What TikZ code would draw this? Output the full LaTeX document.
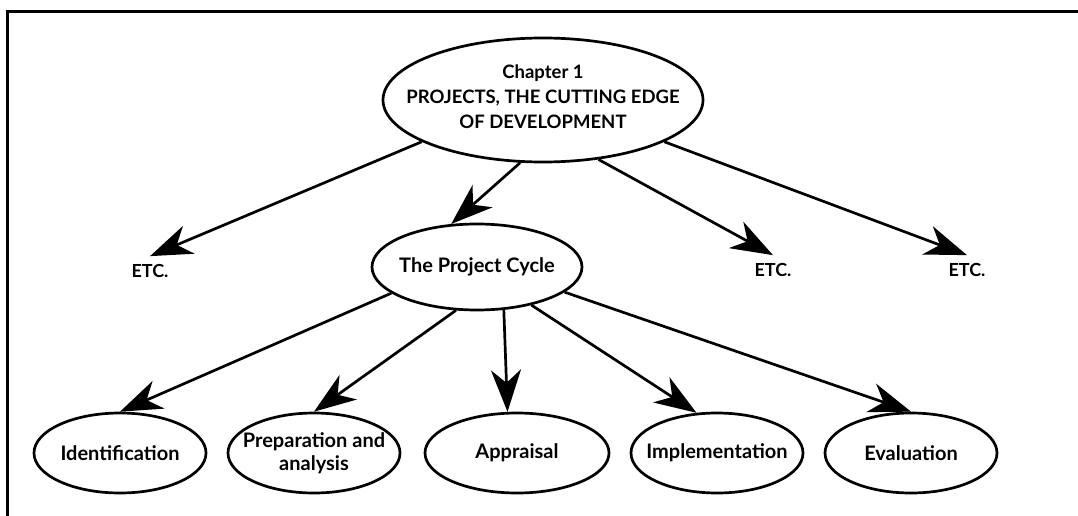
\documentclass[tikz,border=0pt]{standalone}
\usepackage{fontspec}
\setmainfont{Lato}
\usetikzlibrary{shapes.geometric,arrows.meta}

\tikzset{
  frame/.style={line width=3pt},
  bubble/.style={draw, ellipse, line width=2.7pt, inner sep=0pt, minimum height=80pt, minimum width=#1},
  bubble/.default=172pt,
  etc/.style={inner sep=8pt, font=\bfseries\fontsize{18}{22}\selectfont},
  link/.style={line width=2.7pt, -{Stealth[length=42pt,width=30pt,inset=13pt]}}
}

\begin{document}
\begin{tikzpicture}[x=1pt,y=-1pt, font=\bfseries\fontsize{20}{23}\selectfont]
  \useasboundingbox (0,0) rectangle (1078,516);
  % page frame, top and left edges
  \draw[frame] (7,516) -- (7,12) -- (1078,12);
  % chapter at the top
  \node[bubble=320pt, minimum height=124pt,
        label={[align=center,yshift=3pt,font=\bfseries\fontsize{18.5}{25}\selectfont]center:Chapter 1\\PROJECTS, THE CUTTING EDGE\\OF DEVELOPMENT}] (chap) at (543,100) {};
  % second level
  \node[bubble=210pt, minimum height=86pt, label=center:The Project Cycle] (cycle) at (477,267) {};
  \node[etc] (etcL) at (150,271) {ETC.};
  \node[etc] (etcM) at (773,270) {ETC.};
  \node[etc] (etcR) at (967,270) {ETC.};
  % the stages of the cycle
  \node[bubble, label=center:Identification] (ident) at (120,453) {};
  \node[bubble, label={[align=center]center:Preparation and\\analysis}] (prep) at (314,453) {};
  \node[bubble=184pt, label=center:Appraisal] (appr) at (517,453) {};
  \node[bubble, label=center:Implementation] (impl) at (717,453) {};
  \node[bubble, label=center:Evaluation] (eval) at (911,453) {};
  % arrows
  \draw[link] (chap.199) -- (etcL.north);
  \draw[link] (chap.250) -- (cycle.121);
  \draw[link] (chap.313) -- (etcM.north);
  \draw[link] (chap.341) -- (etcR.north);
  \draw[link] (cycle.197) -- (ident.north);
  \draw[link] (cycle.244) -- (prep.north);
  \draw[link] (cycle.302) -- (appr.103);
  \draw[link] (cycle.325) -- (impl.117);
  \draw[link] (cycle.344) -- (eval.north);
\end{tikzpicture}
\end{document}
